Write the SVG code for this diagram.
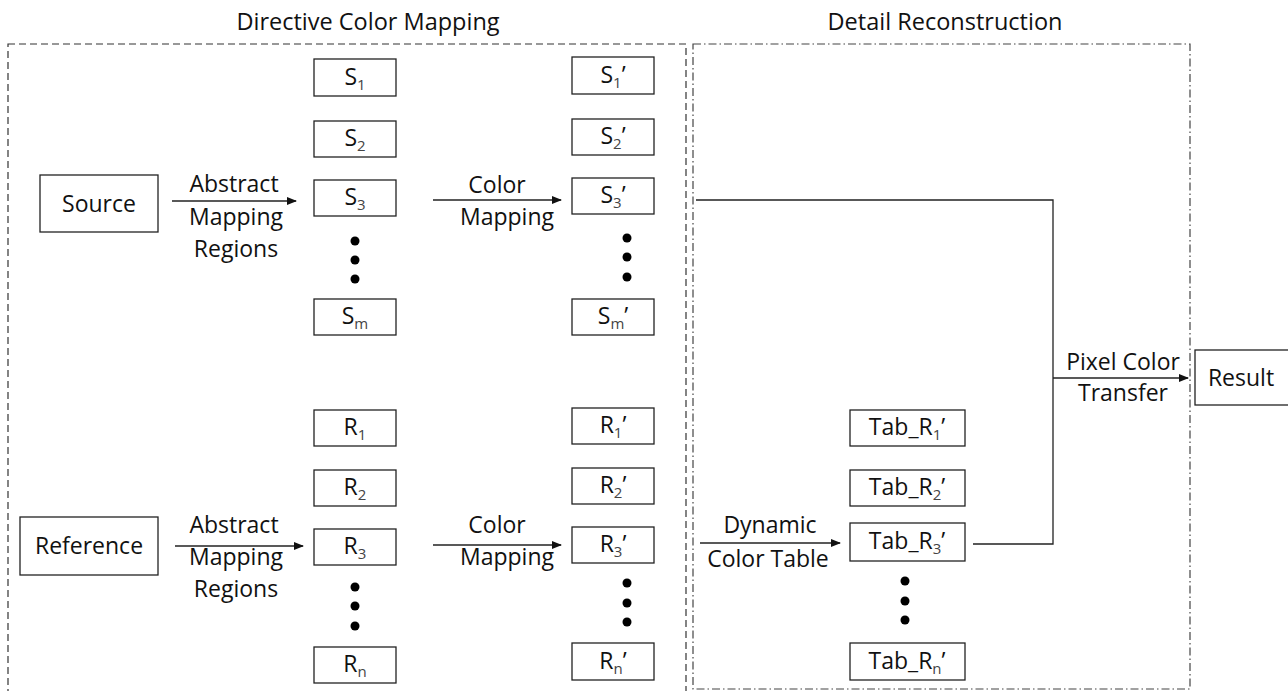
<svg xmlns="http://www.w3.org/2000/svg" width="1288" height="691" viewBox="0 0 1288 691">
<style>
text{font-family:"Open Sans","Liberation Sans",Arial,sans-serif;fill:#111;font-size:23px;text-anchor:middle}
.t{font-size:23.5px}
.b{fill:#fff;stroke:#222;stroke-width:1.3}
.sub{font-size:15px;fill:#444}
.c{fill:none;stroke:#222;stroke-width:1.3}
.d{fill:#000}
</style>
<defs>
<marker id="ah" markerWidth="10" markerHeight="8" refX="9" refY="4" orient="auto" markerUnits="userSpaceOnUse">
<path d="M0,0 L10,4 L0,8 z" fill="#111"/>
</marker>
</defs>
<g id="frames">
<rect x="8" y="44" width="678" height="660" fill="none" stroke="#333" stroke-width="1.2" stroke-dasharray="7,4"/>
<rect x="693" y="44" width="497" height="645" fill="none" stroke="#444" stroke-width="1.2" stroke-dasharray="8,3,1.5,3"/>
<text x="368" y="30" class="t">Directive Color Mapping</text>
<text x="945" y="30" class="t">Detail Reconstruction</text>
</g>
<g id="connectors">
<line class="c" x1="172" y1="201" x2="296" y2="201" marker-end="url(#ah)"/>
<line class="c" x1="433" y1="200" x2="561" y2="200" marker-end="url(#ah)"/>
<line class="c" x1="175" y1="546" x2="303" y2="546" marker-end="url(#ah)"/>
<line class="c" x1="433" y1="545" x2="561" y2="545" marker-end="url(#ah)"/>
<line class="c" x1="700" y1="543" x2="840" y2="543" marker-end="url(#ah)"/>
<polyline class="c" points="696,200 1053,200 1053,544 973,544"/>
<line class="c" x1="1053" y1="378" x2="1188" y2="378" marker-end="url(#ah)"/>
<text x="234" y="192">Abstract</text>
<text x="236" y="225">Mapping</text>
<text x="236" y="257">Regions</text>
<text x="497" y="193">Color</text>
<text x="507" y="225">Mapping</text>
<text x="234" y="533">Abstract</text>
<text x="236" y="565">Mapping</text>
<text x="236" y="597">Regions</text>
<text x="497" y="533">Color</text>
<text x="507" y="565">Mapping</text>
<text x="770" y="533">Dynamic</text>
<text x="768" y="567">Color Table</text>
<text x="1123" y="370">Pixel Color</text>
<text x="1123" y="401">Transfer</text>
</g>
<g id="source"><rect class="b" x="40" y="175" width="118" height="57"/><text x="99" y="212">Source</text></g>
<g id="reference"><rect class="b" x="20" y="517" width="138" height="58"/><text x="89" y="554">Reference</text></g>
<g id="result"><rect class="b" x="1195" y="350" width="98" height="55"/><text x="1241" y="386">Result</text></g>
<g id="s1"><rect class="b" x="314" y="59" width="82" height="37"/><text x="355" y="85">S<tspan class="sub" dy="5">1</tspan></text></g>
<g id="s2"><rect class="b" x="314" y="121" width="82" height="36"/><text x="355" y="146">S<tspan class="sub" dy="5">2</tspan></text></g>
<g id="s3"><rect class="b" x="314" y="180" width="82" height="36"/><text x="355" y="205">S<tspan class="sub" dy="5">3</tspan></text></g>
<g id="sdots"><circle class="d" cx="355" cy="241" r="4.5"/><circle class="d" cx="355" cy="260" r="4.5"/><circle class="d" cx="355" cy="279" r="4.5"/></g>
<g id="sm"><rect class="b" x="314" y="299" width="82" height="36"/><text x="355" y="324">S<tspan class="sub" dy="5">m</tspan></text></g>
<g id="s1p"><rect class="b" x="572" y="57" width="82" height="37"/><text x="613" y="83">S<tspan class="sub" dy="5">1</tspan><tspan dy="-5">’</tspan></text></g>
<g id="s2p"><rect class="b" x="572" y="119" width="82" height="36"/><text x="613" y="144">S<tspan class="sub" dy="5">2</tspan><tspan dy="-5">’</tspan></text></g>
<g id="s3p"><rect class="b" x="572" y="178" width="82" height="36"/><text x="613" y="203">S<tspan class="sub" dy="5">3</tspan><tspan dy="-5">’</tspan></text></g>
<g id="spdots"><circle class="d" cx="627" cy="238" r="4.5"/><circle class="d" cx="627" cy="257" r="4.5"/><circle class="d" cx="627" cy="277" r="4.5"/></g>
<g id="smp"><rect class="b" x="572" y="299" width="82" height="36"/><text x="613" y="324">S<tspan class="sub" dy="5">m</tspan><tspan dy="-5">’</tspan></text></g>
<g id="r1"><rect class="b" x="314" y="410" width="82" height="36"/><text x="355" y="435">R<tspan class="sub" dy="5">1</tspan></text></g>
<g id="r2"><rect class="b" x="314" y="470" width="82" height="36"/><text x="355" y="495">R<tspan class="sub" dy="5">2</tspan></text></g>
<g id="r3"><rect class="b" x="314" y="529" width="82" height="36"/><text x="355" y="554">R<tspan class="sub" dy="5">3</tspan></text></g>
<g id="rdots"><circle class="d" cx="355" cy="587" r="4.5"/><circle class="d" cx="355" cy="606" r="4.5"/><circle class="d" cx="355" cy="626" r="4.5"/></g>
<g id="rn"><rect class="b" x="314" y="647" width="82" height="36"/><text x="355" y="672">R<tspan class="sub" dy="5">n</tspan></text></g>
<g id="r1p"><rect class="b" x="572" y="408" width="82" height="36"/><text x="613" y="433">R<tspan class="sub" dy="5">1</tspan><tspan dy="-5">’</tspan></text></g>
<g id="r2p"><rect class="b" x="572" y="468" width="82" height="36"/><text x="613" y="493">R<tspan class="sub" dy="5">2</tspan><tspan dy="-5">’</tspan></text></g>
<g id="r3p"><rect class="b" x="572" y="527" width="82" height="36"/><text x="613" y="552">R<tspan class="sub" dy="5">3</tspan><tspan dy="-5">’</tspan></text></g>
<g id="rpdots"><circle class="d" cx="627" cy="583" r="4.5"/><circle class="d" cx="627" cy="603" r="4.5"/><circle class="d" cx="627" cy="622" r="4.5"/></g>
<g id="rnp"><rect class="b" x="572" y="643" width="82" height="37"/><text x="613" y="669">R<tspan class="sub" dy="5">n</tspan><tspan dy="-5">’</tspan></text></g>
<g id="tab1"><rect class="b" x="850" y="410" width="115" height="36"/><text x="907" y="435">Tab_R<tspan class="sub" dy="5">1</tspan><tspan dy="-5">’</tspan></text></g>
<g id="tab2"><rect class="b" x="850" y="470" width="115" height="36"/><text x="907" y="495">Tab_R<tspan class="sub" dy="5">2</tspan><tspan dy="-5">’</tspan></text></g>
<g id="tab3"><rect class="b" x="850" y="523" width="115" height="38"/><text x="907" y="549">Tab_R<tspan class="sub" dy="5">3</tspan><tspan dy="-5">’</tspan></text></g>
<g id="tabdots"><circle class="d" cx="905" cy="581" r="4.5"/><circle class="d" cx="905" cy="601" r="4.5"/><circle class="d" cx="905" cy="620" r="4.5"/></g>
<g id="tabn"><rect class="b" x="850" y="643" width="115" height="37"/><text x="907" y="669">Tab_R<tspan class="sub" dy="5">n</tspan><tspan dy="-5">’</tspan></text></g>
</svg>
